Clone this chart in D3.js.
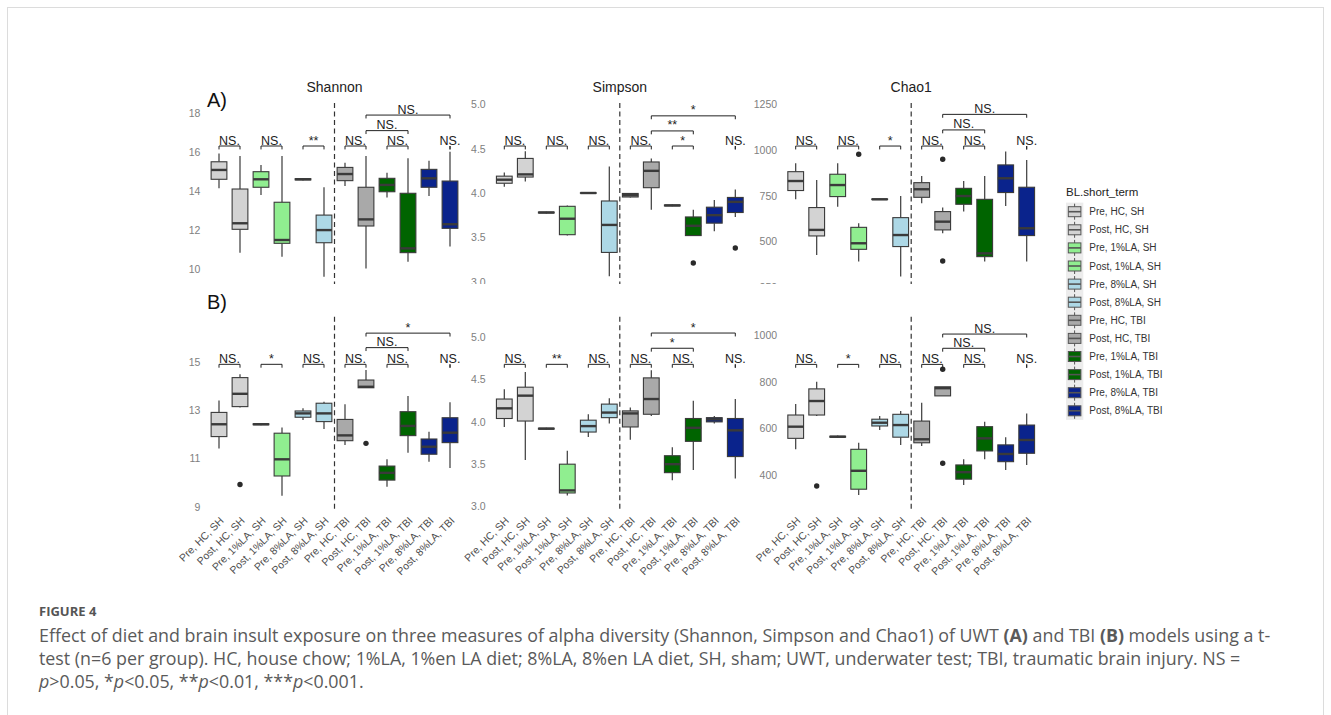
<!DOCTYPE html>
<html><head><meta charset="utf-8">
<script src="https://cdn.jsdelivr.net/npm/d3@7"></script>
<style>
body{margin:0;background:#fff}
svg{display:block}
</style>
</head><body>
<svg id="fig" width="1331" height="715"></svg>
<script>
// Groups (x categories) and their fills
const groups = ["Pre, HC, SH","Post, HC, SH","Pre, 1%LA, SH","Post, 1%LA, SH","Pre, 8%LA, SH","Post, 8%LA, SH",
                "Pre, HC, TBI","Post, HC, TBI","Pre, 1%LA, TBI","Post, 1%LA, TBI","Pre, 8%LA, TBI","Post, 8%LA, TBI"];
const groupFill = ["#d3d3d3","#d3d3d3","#90ee90","#90ee90","#add8e6","#add8e6",
                   "#a9a9a9","#a9a9a9","#006400","#006400","#0a238c","#0a238c"];
const metrics = ["Shannon","Simpson","Chao1"];

// Box summaries per group: [lower whisker, Q1, median, Q3, upper whisker]
const shannonUWT = [
 [14.15,14.61,15.09,15.51,15.94],[10.84,12.04,12.35,14.11,15.81],
 [13.80,14.20,14.61,15.00,15.34],[10.63,11.32,11.49,13.43,15.81],
 [14.55,14.58,14.61,14.64,14.67],[9.60,11.35,12.00,12.77,14.20],
 [14.26,14.54,14.88,15.22,15.46],[10.03,12.21,12.55,14.20,15.81],
 [13.68,13.97,14.32,14.66,14.95],[10.37,10.84,11.06,13.89,15.69],
 [13.75,14.20,14.66,15.12,15.56],[11.15,12.09,12.30,14.52,16.03]];
const shannonUWTOut = [];
const simpsonUWT = [
 [4.07,4.11,4.15,4.19,4.23],[4.13,4.18,4.21,4.39,4.47],
 [3.77,3.775,3.78,3.785,3.79],[3.52,3.53,3.71,3.85,3.86],
 [3.995,3.997,4.00,4.003,4.005],[3.06,3.33,3.64,3.91,4.30],
 [3.95,3.955,3.975,3.995,4.00],[3.81,4.06,4.25,4.35,4.39],
 [3.85,3.855,3.86,3.865,3.87],[3.52,3.52,3.63,3.73,3.81],
 [3.57,3.66,3.75,3.84,3.92],[3.73,3.78,3.90,3.95,4.04]];
const simpsonUWTOut = [[9,3.21],[11,3.38]];
const chao1UWT = [
 [731,779,831,882,928],[427,531,564,686,837],
 [691,746,809,868,928],[391,458,491,578,600],
 [728,730,731,733,734],[309,473,536,631,749],
 [709,742,786,822,859],[546,564,609,664,686],
 [664,704,749,791,831],[391,418,436,731,859],
 [695,768,846,919,992],[391,533,573,797,946]];
const chao1UWTOut = [[3,977],[7,950],[7,394]];

const shannonTBI = [
 [11.41,11.90,12.41,12.90,13.39],[13.10,13.14,13.67,14.34,14.48],
 [12.37,12.39,12.41,12.43,12.45],[9.45,10.27,10.96,12.04,12.28],
 [12.59,12.70,12.86,12.96,13.07],[12.21,12.52,12.86,13.28,13.34],
 [11.55,11.73,11.95,12.61,13.24],[13.92,13.92,13.96,14.24,14.66],
 [9.82,10.10,10.40,10.68,10.96],[11.23,11.94,12.34,12.93,13.58],
 [10.86,11.17,11.48,11.80,12.10],[10.60,11.65,12.06,12.68,13.32]];
const shannonTBIOut = [[1,9.92],[7,11.62]];
const simpsonTBI = [
 [3.94,4.04,4.16,4.27,4.385],[3.55,4.01,4.31,4.41,4.59],
 [3.91,3.915,3.92,3.925,3.93],[3.13,3.16,3.19,3.50,3.66],
 [3.82,3.88,3.95,4.02,4.09],[3.98,4.05,4.11,4.21,4.28],
 [3.79,3.94,4.10,4.13,4.17],[4.07,4.09,4.27,4.52,4.61],
 [3.31,3.40,3.50,3.60,3.70],[3.43,3.77,3.93,4.04,4.25],
 [3.98,4.00,4.03,4.05,4.07],[3.33,3.59,3.90,4.04,4.27]];
const simpsonTBIOut = [];
const chao1TBI = [
 [510,557,607,657,704],[653,657,717,769,800],
 [559,562,564,566,569],[314,339,418,510,538],
 [593,610,624,639,653],[529,562,614,660,674],
 [524,538,553,631,710],[739,739,772,778,778],
 [357,382,412,443,467],[467,503,557,607,628],
 [421,457,490,529,562],[443,493,550,614,664]];
const chao1TBIOut = [[1,353],[7,853],[7,450]];

// Y-axis domains and tick labels
const domShannonUWT = [8.51,18.53], ticksShannonUWT = [10,12,14,16,18];
const domSimpsonUWT = [2.816,5.015], ticksSimpsonUWT = [3.0,3.5,4.0,4.5,5.0];
const domChao1UWT = [192.1,1257.1], ticksChao1UWT = [250,500,750,1000,1250];
const domShannonTBI = [8.78,16.86], ticksShannonTBI = [9,11,13,15];
const domSimpsonTBI = [2.935,5.243], ticksSimpsonTBI = [3.0,3.5,4.0,4.5,5.0];
const domChao1TBI = [241.3,1078.4], ticksChao1TBI = [400,600,800,1000];

// Significance brackets: [from group, to group, tier, label]; tier heights in data units
const brShannonUWT = [[0,1,0,"NS."],[2,3,0,"NS."],[4,5,0,"**"],[6,7,0,"NS."],[8,9,0,"NS."],[7,9,1,"NS."],[7,11,2,"NS."],[11,11,0,"NS."]];
const tierShannonUWT = [16.32,17.11,17.91];
const brSimpsonUWT = [[0,1,0,"NS."],[2,3,0,"NS."],[4,5,0,"NS."],[6,7,0,"NS."],[8,9,0,"*"],[7,9,1,"**"],[7,11,2,"*"],[11,11,0,"NS."]];
const tierSimpsonUWT = [4.53,4.70,4.87];
const brChao1UWT = [[0,1,0,"NS."],[2,3,0,"NS."],[4,5,0,"*"],[6,7,0,"NS."],[8,9,0,"NS."],[7,9,1,"NS."],[7,11,2,"NS."],[11,11,0,"NS."]];
const tierChao1UWT = [1022,1110,1195];
const brShannonTBI = [[0,1,0,"NS."],[2,3,0,"*"],[4,5,0,"NS."],[6,7,0,"NS."],[8,9,0,"NS."],[7,9,1,"NS."],[7,11,2,"*"],[11,11,0,"NS."]];
const tierShannonTBI = [14.89,15.58,16.18];
const brSimpsonTBI = [[0,1,0,"NS."],[2,3,0,"**"],[4,5,0,"NS."],[6,7,0,"NS."],[8,9,0,"NS."],[7,9,1,"*"],[7,11,2,"*"],[11,11,0,"NS."]];
const tierSimpsonTBI = [4.68,4.87,5.05];
const brChao1TBI = [[0,1,0,"NS."],[2,3,0,"*"],[4,5,0,"NS."],[6,7,0,"NS."],[8,9,0,"NS."],[7,9,1,"NS."],[7,11,2,"NS."],[11,11,0,"NS."]];
const tierChao1TBI = [874,943,1004];

const legendTitle = "BL.short_term";
const tags = ["A)","B)"];

// ---------- layout ----------
const svg = d3.select("#fig");
const FONT = "'Liberation Sans', Arial, Helvetica, sans-serif";
const ink = "#3a3a3a";

svg.append("rect").attr("x",7.5).attr("y",7.5).attr("width",1316).attr("height",760)
  .attr("fill","none").attr("stroke","#dcdcdc").attr("stroke-width",1);

const panelLeft = [206.4, 491.7, 783.1], panelWidth = 256.2;
const rows = [{top:103, bottom:298, clip:284}, {top:316.7, bottom:512, clip:null}];

const panels = [
 {row:0,col:0,stats:shannonUWT,out:shannonUWTOut,dom:domShannonUWT,ticks:ticksShannonUWT,br:brShannonUWT,tier:tierShannonUWT,fmt:d3.format("d")},
 {row:0,col:1,stats:simpsonUWT,out:simpsonUWTOut,dom:domSimpsonUWT,ticks:ticksSimpsonUWT,br:brSimpsonUWT,tier:tierSimpsonUWT,fmt:d3.format(".1f")},
 {row:0,col:2,stats:chao1UWT,out:chao1UWTOut,dom:domChao1UWT,ticks:ticksChao1UWT,br:brChao1UWT,tier:tierChao1UWT,fmt:d3.format("d")},
 {row:1,col:0,stats:shannonTBI,out:shannonTBIOut,dom:domShannonTBI,ticks:ticksShannonTBI,br:brShannonTBI,tier:tierShannonTBI,fmt:d3.format("d")},
 {row:1,col:1,stats:simpsonTBI,out:simpsonTBIOut,dom:domSimpsonTBI,ticks:ticksSimpsonTBI,br:brSimpsonTBI,tier:tierSimpsonTBI,fmt:d3.format(".1f")},
 {row:1,col:2,stats:chao1TBI,out:chao1TBIOut,dom:domChao1TBI,ticks:ticksChao1TBI,br:brChao1TBI,tier:tierChao1TBI,fmt:d3.format("d")}
];

// the lower figure sits over the lower edge of the upper one
svg.append("clipPath").attr("id","clipA").append("rect")
  .attr("x",0).attr("y",0).attr("width",1331).attr("height",rows[0].clip);

const rowG = rows.map((r,i)=>{
  const g = svg.append("g");
  if (r.clip) g.attr("clip-path","url(#clipA)");
  return g;
});

// figure tags
const tagY = [107, 309];
tags.forEach((t,i)=>{
  svg.append("text").attr("x",207).attr("y",tagY[i]).text(t)
    .attr("font-family",FONT).attr("font-size",20).attr("fill","#111");
});

panels.forEach(p=>{
  const r = rows[p.row];
  const g = rowG[p.row];
  const x0 = panelLeft[p.col];
  const x = d3.scaleBand().domain(groups).range([x0, x0+panelWidth]).paddingInner(0).paddingOuter(0.1);
  const step = x.step();
  const cx = i => x(groups[i]) + step/2;
  const y = d3.scaleLinear().domain(p.dom).range([r.bottom, r.top]);
  const bw = step*0.75;

  // y tick labels
  const ax = d3.axisLeft(y).tickValues(p.ticks).tickFormat(p.fmt).tickSize(0).tickPadding(6);
  const axG = g.append("g").attr("transform",`translate(${x0},0)`).call(ax);
  axG.select(".domain").remove();
  axG.selectAll("text").attr("font-family",FONT).attr("font-size",10.5).attr("fill","#808080");

  // separator between sham and TBI groups
  g.append("line").attr("x1",x(groups[6])).attr("x2",x(groups[6]))
    .attr("y1",r.top).attr("y2",r.bottom)
    .attr("stroke","#333").attr("stroke-width",1.2).attr("stroke-dasharray","5,3.5");

  // boxes
  p.stats.forEach((s,i)=>{
    const [lo,q1,med,q3,hi] = s;
    const c = cx(i);
    g.append("line").attr("x1",c).attr("x2",c).attr("y1",y(hi)).attr("y2",y(q3))
      .attr("stroke",ink).attr("stroke-width",1.2);
    g.append("line").attr("x1",c).attr("x2",c).attr("y1",y(q1)).attr("y2",y(lo))
      .attr("stroke",ink).attr("stroke-width",1.2);
    g.append("rect").attr("x",c-bw/2).attr("width",bw)
      .attr("y",y(q3)).attr("height",Math.max(0.5,y(q1)-y(q3)))
      .attr("fill",groupFill[i]).attr("stroke",ink).attr("stroke-width",1.1);
    g.append("line").attr("x1",c-bw/2).attr("x2",c+bw/2).attr("y1",y(med)).attr("y2",y(med))
      .attr("stroke",ink).attr("stroke-width",2.4);
  });
  p.out.forEach(([i,v])=>{
    g.append("circle").attr("cx",cx(i)).attr("cy",y(v)).attr("r",2.7).attr("fill","#2a2a2a");
  });

  // significance brackets
  p.br.forEach(([a,b,t,lab])=>{
    const ly = y(p.tier[t]), xa = cx(a), xb = cx(b), tip = 3.4;
    g.append("path").attr("d",`M${xa},${ly+tip}V${ly}H${xb}V${ly+tip}`)
      .attr("fill","none").attr("stroke","#222").attr("stroke-width",1);
    g.append("text").attr("x",(xa+xb)/2).attr("y",ly-1.5).attr("text-anchor","middle")
      .attr("font-family",FONT).attr("font-size",12.5).attr("fill","#222").text(lab);
  });

  // facet titles on the top row
  if (p.row===0) {
    g.append("text").attr("x",x0+panelWidth/2).attr("y",92).attr("text-anchor","middle")
      .attr("font-family",FONT).attr("font-size",14).attr("fill","#222").text(metrics[p.col]);
  }

  // rotated group labels under the lower panels
  if (p.row===1) {
    groups.forEach((name,i)=>{
      g.append("text").attr("transform",`translate(${cx(i)},${r.bottom+4}) rotate(-45)`)
        .attr("text-anchor","end").attr("dy","0.72em")
        .attr("font-family",FONT).attr("font-size",10.5).attr("fill","#4d4d4d").text(name);
    });
  }
});

// legend
const lg = svg.append("g");
const lx = 1066, ly0 = 211.7, lstep = 18.1;
lg.append("text").attr("x",lx).attr("y",196).text(legendTitle)
  .attr("font-family",FONT).attr("font-size",11.5).attr("fill","#222");
lg.append("rect").attr("x",lx).attr("y",ly0-lstep/2).attr("width",17.3).attr("height",lstep*groups.length)
  .attr("fill","#ececec");
groups.forEach((name,i)=>{
  const cy = ly0 + i*lstep, kc = lx + 8.6;
  lg.append("line").attr("x1",kc).attr("x2",kc).attr("y1",cy-8).attr("y2",cy+8)
    .attr("stroke","#555").attr("stroke-width",1);
  lg.append("rect").attr("x",kc-6.3).attr("y",cy-5).attr("width",12.6).attr("height",10)
    .attr("fill",groupFill[i]).attr("stroke","#555").attr("stroke-width",1);
  lg.append("line").attr("x1",kc-6.3).attr("x2",kc+6.3).attr("y1",cy).attr("y2",cy)
    .attr("stroke","#555").attr("stroke-width",1.6);
  lg.append("text").attr("x",lx+23.3).attr("y",cy).attr("dy","0.35em").text(name)
    .attr("font-family",FONT).attr("font-size",10).attr("fill","#333");
});

// caption
const CAP = "'Open Sans', 'Liberation Sans', sans-serif";
const capX = 39;
svg.append("text").attr("x",capX).attr("y",616).text("FIGURE 4")
  .attr("font-family",CAP).attr("font-size",13).attr("font-weight","bold").attr("fill","#555");
const capLines = [
  [["Effect of diet and brain insult exposure on three measures of alpha diversity (Shannon, Simpson and Chao1) of UWT ",""],["(A)","b"],[" and TBI ",""],["(B)","b"],[" models using a t-",""]],
  [["test (n=6 per group). HC, house chow; 1%LA, 1%en LA diet; 8%LA, 8%en LA diet, SH, sham; UWT, underwater test; TBI, traumatic brain injury. NS =",""]],
  [["p","i"],[">0.05, *",""],["p","i"],["<0.05, **",""],["p","i"],["<0.01, ***",""],["p","i"],["<0.001.",""]]
];
const capY = [642, 665, 688];
const capTexts = capLines.map((parts,li)=>{
  const t = svg.append("text").attr("x",capX).attr("y",capY[li])
    .attr("font-family",CAP).attr("font-size",16).attr("fill","#5a5a5a");
  parts.forEach(([s,st])=>{
    const ts = t.append("tspan").text(s);
    if (st==="b") ts.attr("font-weight","bold");
    if (st==="i") ts.attr("font-style","italic");
  });
  return t;
});
// size caption so the first line spans the text column
const w0 = capTexts[0].node().getComputedTextLength();
const fs = 16 * 1232 / w0;
capTexts.forEach(t=>t.attr("font-size",fs));
</script>
</body></html>
